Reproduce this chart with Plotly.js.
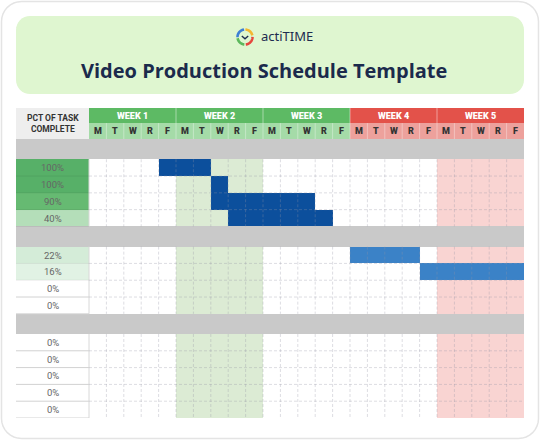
<!DOCTYPE html>
<html><head><meta charset="utf-8">
<script src="https://cdn.plot.ly/plotly-3.0.1.min.js"></script>
<style>html,body{margin:0;padding:0;background:#fff}</style>
</head><body><div id="chart" style="width:540px;height:440px"></div>
<script>
// ---------------- data ----------------
const titleText = 'Video Production Schedule Template';
const brandText = 'actiTIME';
const headerLabel = 'PCT OF TASK<br>COMPLETE';
const weeks = ['WEEK 1', 'WEEK 2', 'WEEK 3', 'WEEK 4', 'WEEK 5'];
const dayLetters = ['M', 'T', 'W', 'R', 'F'];
const sectionSizes = [4, 4, 5];
const pctComplete = [100, 100, 90, 40, 22, 16, 0, 0, 0, 0, 0, 0, 0];
const barStartDay = [4, 7, 7, 8, 15, 19, null, null, null, null, null, null, null];
const barDays = [3, 1, 6, 6, 4, 6, 0, 0, 0, 0, 0, 0, 0];

// ---------------- style / layout ----------------
const W = 540, H = 440, M = {l: 16, r: 16, t: 108, b: 22};
const DAY_PX = 17.4;
const LABEL_W = 73 / DAY_PX;
const WEEK_H = 0.9, DAY_H = 0.95, BAND_H = 1.2, ROW_H = 1;
const NDAYS = weeks.length * dayLetters.length;
const BAR_CODE_BY_SECTION = [8, 9, 9];
const palette = ['#ffffff', '#dcebd4', '#f9d4d2', '#c9c9c9', '#5dba64', '#e3524a',
                 '#a5dba8', '#eda19c', '#0c4f9c', '#3b82c7', '#eeeeee'];
const weekIsRed = w => w >= 3;

// rows
const rows = [{type: 'week', h: WEEK_H}, {type: 'day', h: DAY_H}];
let ti = 0;
sectionSizes.forEach((n, s) => {
  rows.push({type: 'band', h: BAND_H});
  for (let k = 0; k < n; k++) rows.push({type: 'task', h: ROW_H, task: ti++, section: s});
});
const yEdges = [0];
rows.forEach(r => yEdges.push(yEdges[yEdges.length - 1] + r.h));
const yTotal = yEdges[yEdges.length - 1];
const xEdgesGrid = [-LABEL_W];
for (let d = 0; d <= NDAYS; d++) xEdgesGrid.push(d);

// grid z
const zGrid = rows.map(r => {
  const row = [];
  if (r.type === 'week') { row.push(10); for (let d = 0; d < NDAYS; d++) row.push(weekIsRed(Math.floor(d / 5)) ? 5 : 4); }
  else if (r.type === 'day') { row.push(10); for (let d = 0; d < NDAYS; d++) row.push(weekIsRed(Math.floor(d / 5)) ? 7 : 6); }
  else if (r.type === 'band') { for (let d = 0; d <= NDAYS; d++) row.push(3); }
  else {
    row.push(null);
    const s0 = barStartDay[r.task], n = barDays[r.task];
    for (let d = 0; d < NDAYS; d++) {
      const w = Math.floor(d / 5);
      if (s0 !== null && d >= s0 && d < s0 + n) row.push(BAR_CODE_BY_SECTION[r.section]);
      else if (w === 1) row.push(1);
      else if (w === 4) row.push(2);
      else row.push(0);
    }
  }
  return row;
});
const N = palette.length;
const discreteScale = [];
palette.forEach((c, i) => { discreteScale.push([i / N, c]); discreteScale.push([(i + 1) / N, c]); });

const zLabel = rows.map(r => r.type === 'task' ? [pctComplete[r.task]] : [null]);

const traces = [
  {type: 'heatmap', x: xEdgesGrid, y: yEdges, z: zGrid, zmin: -0.5, zmax: N - 0.5,
   colorscale: discreteScale, showscale: false, hoverinfo: 'skip'},
  {type: 'heatmap', x: [-LABEL_W, 0], y: yEdges, z: zLabel, zmin: 0, zmax: 100,
   colorscale: [[0, '#ffffff'], [0.16, '#e1f2e4'], [0.22, '#d4ecd8'], [0.4, '#b4deb9'], [0.9, '#66ba72'], [1, '#57b068']],
   showscale: false, hoverinfo: 'skip'}
];

// ---------------- shapes ----------------
const px2x = px => (px - M.l) / (W - M.l - M.r);
const py2y = py => (H - M.b - py) / (H - M.t - M.b);
const pathPx = pts => pts.map((p, i) => (i ? 'L' : 'M') + px2x(p[0]).toFixed(5) + ',' + py2y(p[1]).toFixed(5)).join(' ');
function roundRect(x0, y0, x1, y1, r) {
  const pts = [];
  const corners = [[x1 - r, y0 + r, 90, 0], [x1 - r, y1 - r, 0, -90], [x0 + r, y1 - r, -90, -180], [x0 + r, y0 + r, 180, 90]];
  corners.forEach(([cx, cy, a0, a1]) => {
    for (let k = 0; k <= 8; k++) { const a = (a0 + (a1 - a0) * k / 8) * Math.PI / 180; pts.push([cx + r * Math.cos(a), cy - r * Math.sin(a)]); }
  });
  return pathPx(pts) + ' Z';
}
function arc(cx, cy, r, a0, a1) {
  const pts = [];
  for (let a = a0; a <= a1 + 0.01; a += 5) { const t = a * Math.PI / 180; pts.push([cx + r * Math.cos(t), cy - r * Math.sin(t)]); }
  return pathPx(pts);
}

const shapes = [];
shapes.push({type: 'path', xref: 'paper', yref: 'paper', path: roundRect(1.5, 1.5, 538.5, 438.5, 20), line: {color: '#e4e4e4', width: 1.5}, fillcolor: 'rgba(0,0,0,0)', layer: 'below'});
shapes.push({type: 'path', xref: 'paper', yref: 'paper', path: roundRect(16, 16, 524, 94, 14), line: {width: 0}, fillcolor: '#dff6d0', layer: 'below'});
// logo ring
const LC = [245, 37], LR = 7.5;
[[97, 183, '#3d7fd4'], [190, 268, '#5cb85c'], [276, 365, '#e6463d'], [12, 88, '#f4b731']].forEach(([a0, a1, c]) => {
  shapes.push({type: 'path', xref: 'paper', yref: 'paper', path: arc(LC[0], LC[1], LR, a0, a1), line: {color: c, width: 2.6}});
});
shapes.push({type: 'path', xref: 'paper', yref: 'paper', path: pathPx([[241.8, 36], [245, 38.8], [248.2, 36]]), line: {color: '#1d2b4f', width: 1.4}});

// grid lines in task sections
const sectionSpans = [];
rows.forEach((r, i) => {
  if (r.type === 'task' && (i === 0 || rows[i - 1].type !== 'task')) sectionSpans.push([yEdges[i], null]);
  if (r.type === 'task' && (i === rows.length - 1 || rows[i + 1].type !== 'task')) sectionSpans[sectionSpans.length - 1][1] = yEdges[i + 1];
});
const gridLine = {color: 'rgba(150,150,165,0.32)', width: 1, dash: '3px,2px'};
sectionSpans.forEach(([y0, y1]) => {
  for (let d = 1; d < NDAYS; d++) shapes.push({type: 'line', xref: 'x', yref: 'y', x0: d, x1: d, y0: y0, y1: y1, line: gridLine});
  shapes.push({type: 'line', xref: 'x', yref: 'y', x0: 0, x1: 0, y0: y0, y1: y1, line: {color: '#d8d8d8', width: 1}});
});
rows.forEach((r, i) => {
  if (r.type !== 'task') return;
  const yb = yEdges[i + 1];
  if (i + 1 < rows.length && rows[i + 1].type === 'task')
    shapes.push({type: 'line', xref: 'x', yref: 'y', x0: 0, x1: NDAYS, y0: yb, y1: yb, line: gridLine});
  shapes.push({type: 'line', xref: 'x', yref: 'y', x0: -LABEL_W, x1: 0, y0: yb, y1: yb,
               line: {color: pctComplete[r.task] > 0 ? 'rgba(0,0,0,0.07)' : '#d2d2d2', width: 1}});
});
// header separators
for (let w = 1; w < weeks.length; w++) shapes.push({type: 'line', xref: 'x', yref: 'y', x0: w * 5, x1: w * 5, y0: 0, y1: WEEK_H, line: {color: 'rgba(255,255,255,0.45)', width: 1}});
for (let d = 1; d < NDAYS; d++) shapes.push({type: 'line', xref: 'x', yref: 'y', x0: d, x1: d, y0: WEEK_H, y1: WEEK_H + DAY_H, line: {color: 'rgba(255,255,255,0.35)', width: 1}});

// ---------------- annotations ----------------
const ann = [];
ann.push({xref: 'paper', yref: 'paper', x: px2x(259), y: py2y(36.5), xanchor: 'left', yanchor: 'middle', text: brandText, showarrow: false,
          font: {family: 'Noto Sans', size: 13, color: '#1d2b4f'}});
ann.push({xref: 'paper', yref: 'paper', x: px2x(264), y: py2y(70), xanchor: 'center', yanchor: 'middle', text: titleText, showarrow: false,
          font: {family: 'Open Sans', size: 20, weight: 700, color: '#1b2a4c'}});
ann.push({xref: 'x', yref: 'y', x: -LABEL_W / 2, y: (WEEK_H + DAY_H) / 2, text: headerLabel, showarrow: false,
          font: {family: 'Roboto', size: 8.5, weight: 700, color: '#333333'}});
weeks.forEach((w, i) => ann.push({xref: 'x', yref: 'y', x: i * 5 + 2.5, y: WEEK_H / 2, text: w, showarrow: false,
          font: {family: 'Roboto', size: 9, weight: 900, color: '#ffffff'}}));
for (let d = 0; d < NDAYS; d++) ann.push({xref: 'x', yref: 'y', x: d + 0.5, y: WEEK_H + DAY_H / 2, text: dayLetters[d % 5], showarrow: false,
          font: {family: 'Roboto', size: 9, weight: 900, color: '#333333'}});
rows.forEach((r, i) => {
  if (r.type !== 'task') return;
  ann.push({xref: 'x', yref: 'y', x: -LABEL_W / 2, y: (yEdges[i] + yEdges[i + 1]) / 2, text: pctComplete[r.task] + '%', showarrow: false,
            font: {family: 'Roboto', size: 9.5, color: '#666666'}});
});

const layout = {
  width: W, height: H, margin: M, paper_bgcolor: '#ffffff', plot_bgcolor: '#ffffff', showlegend: false,
  xaxis: {range: [-LABEL_W, NDAYS], visible: false, fixedrange: true},
  yaxis: {range: [yTotal, 0], visible: false, fixedrange: true},
  shapes: shapes, annotations: ann
};
Plotly.newPlot('chart', traces, layout, {staticPlot: true, displayModeBar: false});
</script></body></html>
